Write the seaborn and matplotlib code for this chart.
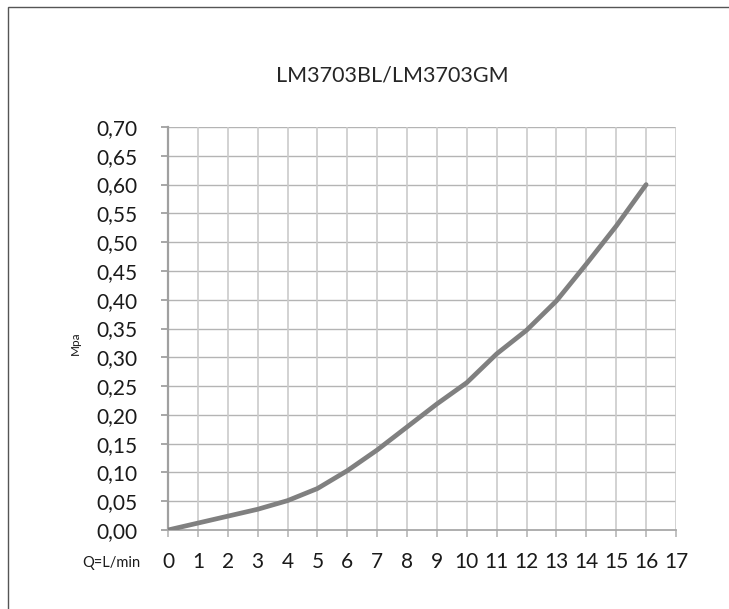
import numpy as np
import pandas as pd
import matplotlib
matplotlib.use("Agg")
import matplotlib.pyplot as plt
import seaborn as sns
from matplotlib.patches import Rectangle

title = "LM3703BL/LM3703GM"
x_label = "Q=L/min"
y_label = "Mpa"
flow = [0, 1, 2, 3, 4, 5, 6, 7, 8, 9, 10, 11, 12, 13, 14, 15, 16]
pressure = [0.0, 0.012, 0.024, 0.036, 0.051, 0.072, 0.103, 0.139, 0.179, 0.219,
            0.256, 0.306, 0.347, 0.398, 0.462, 0.528, 0.600]
x_ticks = list(range(0, 18))
y_ticks = [0.00, 0.05, 0.10, 0.15, 0.20, 0.25, 0.30, 0.35, 0.40, 0.45, 0.50, 0.55, 0.60, 0.65, 0.70]

sns.set_style("white")
plt.rcParams['font.family'] = ['Lato', 'DejaVu Sans']

W, H = 729, 609
fig = plt.figure(figsize=(W / 100, H / 100), dpi=100)
ax = fig.add_axes([168 / W, 1 - 530 / H, (676 - 168) / W, (530 - 127) / H])

df = pd.DataFrame({"Q": flow, "P": pressure})
sns.lineplot(data=df, x="Q", y="P", ax=ax, color="#808080", linewidth=3.4,
             solid_joinstyle="round", solid_capstyle="round", zorder=5)

ax.set_xlim(0, 17)
ax.set_ylim(0, 0.70)
ax.set_xticks(x_ticks)
ax.set_xticklabels([str(v) for v in x_ticks])
ax.set_yticks(y_ticks)
ax.set_yticklabels([f"{v:.2f}".replace(".", ",") for v in y_ticks])

for v in y_ticks[1:]:
    ax.axhline(v, color="#b4b4b4", linewidth=1.0, zorder=1)
for v in x_ticks[1:]:
    ax.axvline(v, color="#cbcbcb", linewidth=1.2, zorder=1)

for s in ["top", "right"]:
    ax.spines[s].set_visible(False)
ax.spines["left"].set_color("#a0a0a0")
ax.spines["left"].set_linewidth(1.6)
ax.spines["bottom"].set_color("#a8a8a8")
ax.spines["bottom"].set_linewidth(1.3)

ax.tick_params(axis="y", direction="out", length=5, width=1.3, color="#a0a0a0",
               pad=17, labelsize=15, labelcolor="#1a1a1a", left=True)
ax.tick_params(axis="x", direction="out", length=5, width=1.1, color="#b0b0b0",
               pad=11, labelsize=15, labelcolor="#1a1a1a", bottom=True)
ax.set_xlabel("")
ax.set_ylabel("")

fig.text(392 / W, 1 - 75 / H, title, ha="center", va="center", fontsize=15.5, color="#262626")
fig.text(140 / W, 1 - 563 / H, x_label, ha="right", va="center", fontsize=10.5, color="#1a1a1a")
fig.text(75 / W, 1 - 343 / H, y_label, ha="center", va="center", rotation=90, fontsize=8.5, color="#1a1a1a")

fig.patches.append(Rectangle((8 / W, -0.1), 1.2, (1 - 7 / H) + 0.1, transform=fig.transFigure,
                             fill=False, edgecolor="#555555", linewidth=1.0))

fig.savefig("out.png", dpi=100)
